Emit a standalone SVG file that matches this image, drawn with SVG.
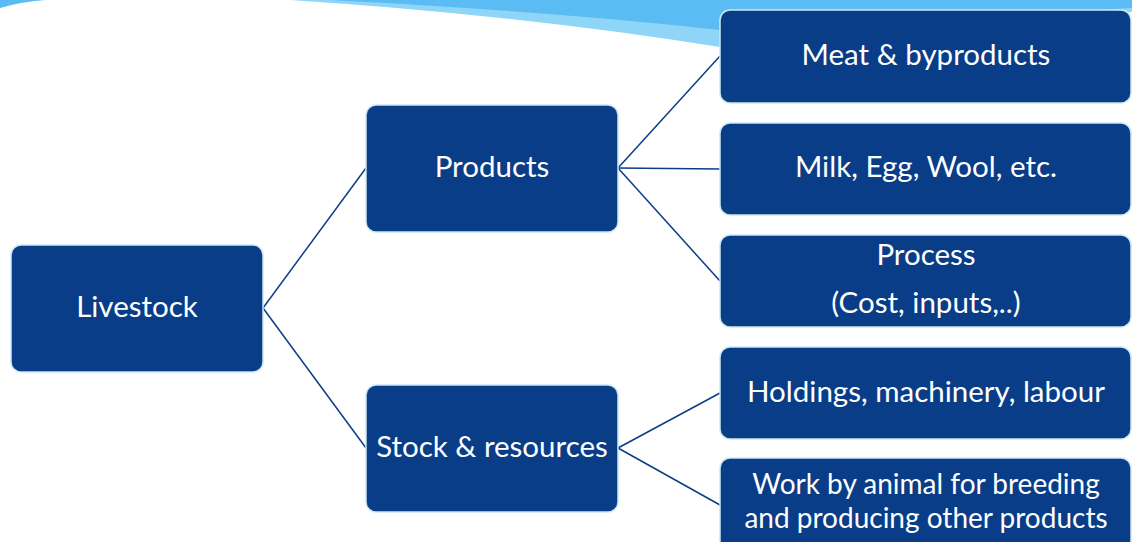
<svg xmlns="http://www.w3.org/2000/svg" width="1132" height="542" viewBox="0 0 1132 542">
<style>
.box{fill:#0a3d87;stroke:#cde6f7;stroke-width:1.5}
.t{fill:#ffffff;font-family:Lato,"Open Sans",sans-serif;font-size:29.5px;text-anchor:middle}
.c{stroke:#0a3d87;stroke-width:1.5;fill:none}
</style>
<rect width="1132" height="542" fill="#ffffff"/>
<g id="swoosh">
<path d="M0 0 L0 8 Q20 2 45 0 Z" fill="#5bbcf3"/>
<path d="M290 0 Q520 15 720 47 L1132 12 L1132 0 Z" fill="#8fd5f8"/>
<path d="M330 0 Q560 12 720 30 L1132 8 L1132 0 Z" fill="#5bbcf3"/>
</g>
<g id="connectors">
<line class="c" x1="263" y1="308" x2="366" y2="168"/>
<line class="c" x1="263" y1="308" x2="366" y2="448"/>
<line class="c" x1="618" y1="168" x2="720" y2="56"/>
<line class="c" x1="618" y1="168" x2="720" y2="169"/>
<line class="c" x1="618" y1="168" x2="720" y2="281"/>
<line class="c" x1="618" y1="448" x2="720" y2="393"/>
<line class="c" x1="618" y1="448" x2="720" y2="505"/>
</g>
<g id="livestock"><rect class="box" x="11" y="245" width="252" height="127" rx="10"/><text class="t" x="137" y="317">Livestock</text></g>
<g id="products"><rect class="box" x="366" y="105" width="252" height="127" rx="10"/><text class="t" x="492" y="177">Products</text></g>
<g id="stock"><rect class="box" x="366" y="385" width="252" height="127" rx="10"/><text class="t" x="492" y="457">Stock &amp; resources</text></g>
<g id="meat"><rect class="box" x="720" y="10" width="411" height="93" rx="10"/><text class="t" x="926" y="65">Meat &amp; byproducts</text></g>
<g id="milk"><rect class="box" x="720" y="123" width="411" height="92" rx="10"/><text class="t" x="926" y="177">Milk, Egg, Wool, etc.</text></g>
<g id="process"><rect class="box" x="720" y="235" width="411" height="92" rx="10"/><text class="t" x="926" y="265">Process</text><text class="t" x="926" y="313">(Cost, inputs,..)</text></g>
<g id="holdings"><rect class="box" x="720" y="347" width="411" height="92" rx="10"/><text class="t" x="926" y="402">Holdings, machinery, labour</text></g>
<g id="work"><rect class="box" x="720" y="458" width="411" height="100" rx="10"/><text class="t" x="926" y="494" style="font-size:28px">Work by animal for breeding</text><text class="t" x="926" y="528" style="font-size:28px">and producing other products</text></g>
</svg>
